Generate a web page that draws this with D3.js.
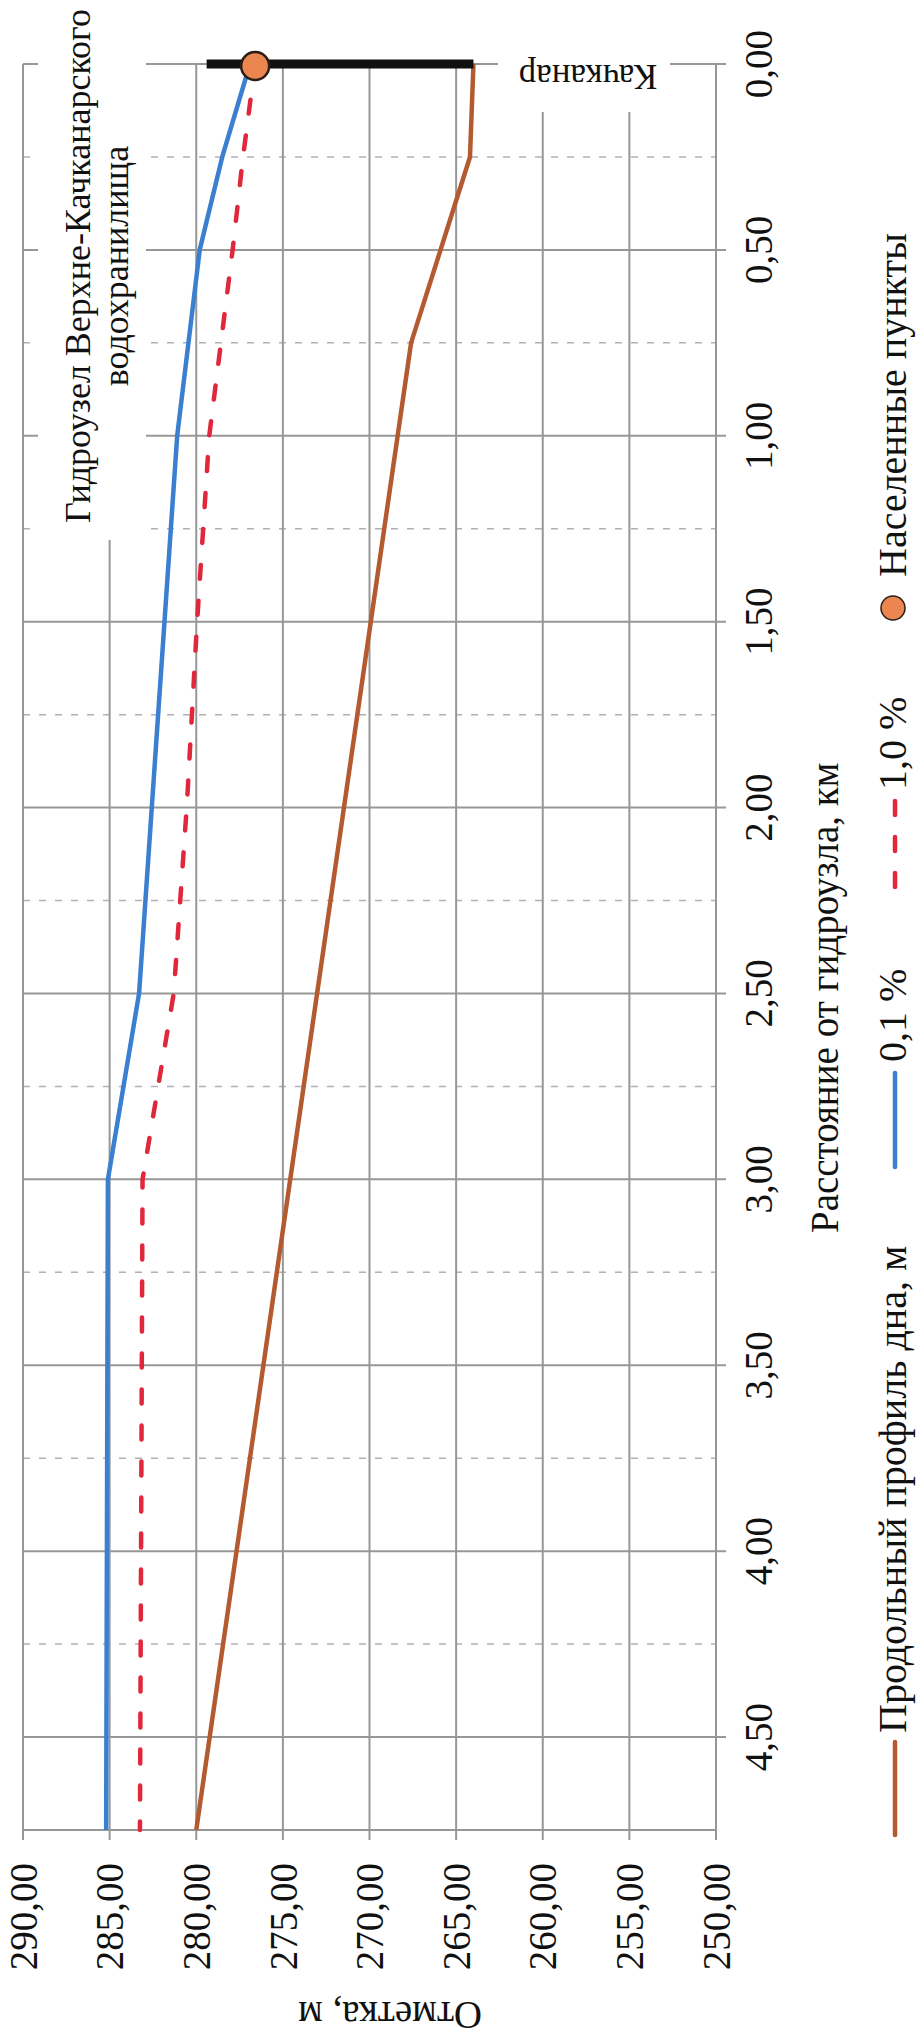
<!DOCTYPE html>
<html><head><meta charset="utf-8">
<script src="https://cdn.jsdelivr.net/npm/d3@7"></script>
<style>body{margin:0;background:#fff}svg{display:block}</style>
</head><body><svg id="c" width="921" height="2040"></svg>
<script>
// ---- data ----
const distTicks = [0, 0.5, 1.0, 1.5, 2.0, 2.5, 3.0, 3.5, 4.0, 4.5];
const distTickLabels = ["0,00","0,50","1,00","1,50","2,00","2,50","3,00","3,50","4,00","4,50"];
const distMinor = [0.25, 0.75, 1.25, 1.75, 2.25, 2.75, 3.25, 3.75, 4.25];
const elevTicks = [290, 285, 280, 275, 270, 265, 260, 255, 250];
const elevTickLabels = ["290,00","285,00","280,00","275,00","270,00","265,00","260,00","255,00","250,00"];

const bedDist = [0, 0.25, 0.75, 4.75];
const bedElev = [264.0, 264.2, 267.6, 280.0];
const p01Dist = [0, 0.25, 0.5, 1.0, 2.5, 3.0, 4.75];
const p01Elev = [276.9, 278.5, 279.8, 281.1, 283.3, 285.1, 285.2];
const p1Dist = [0, 0.25, 0.5, 1.0, 1.5, 2.0, 2.5, 3.0, 4.75];
const p1Elev = [276.6, 277.3, 277.9, 279.25, 279.95, 280.55, 281.3, 283.1, 283.25];

const townDist = [0];
const townElev = [276.6];
const townName = ["Качканар"];
const townBarLow = [264.0];
const townBarHigh = [279.4];

const legendLabels = ["Продольный профиль дна, м", "0,1 %", "1,0 %", "Населенные пункты"];
const xAxisTitle = "Расстояние от гидроузла, км";
const yAxisTitle = "Отметка, м";
const damLabel = ["Гидроузел Верхне-Качканарского", "водохранилища"];

// ---- drawing ----
const FONT = '"Liberation Serif", "Times New Roman", serif';
const svg = d3.select("#c");
const y = d3.scaleLinear().domain([0, 4.75]).range([64, 1830]);   // distance (vertical)
const x = d3.scaleLinear().domain([250, 290]).range([716, 23]);   // elevation (horizontal)
const GRID = "#979797";
const txt = (sel, size) => sel.style("font-family", FONT).style("font-size", size + "px").style("fill", "#111");

svg.append("g").selectAll("line").data(distMinor).join("line")
  .attr("x1", x(290)).attr("x2", x(250)).attr("y1", d => y(d)).attr("y2", d => y(d))
  .attr("stroke", "#b0b0b8").attr("stroke-width", 1.5).attr("stroke-dasharray", "7,9");
svg.append("g").selectAll("line").data(elevTicks).join("line")
  .attr("x1", d => x(d)).attr("x2", d => x(d)).attr("y1", y(0)).attr("y2", y(4.75) + 10)
  .attr("stroke", GRID).attr("stroke-width", 2);
svg.append("g").selectAll("line").data(distTicks).join("line")
  .attr("x1", x(290)).attr("x2", x(250) + 10).attr("y1", d => y(d)).attr("y2", d => y(d))
  .attr("stroke", GRID).attr("stroke-width", 2);
svg.append("line").attr("x1", x(290)).attr("x2", x(250)).attr("y1", y(4.75)).attr("y2", y(4.75))
  .attr("stroke", GRID).attr("stroke-width", 2);

svg.append("rect").attr("x", 38).attr("y", 0).attr("width", 108).attr("height", 540).attr("fill", "#fff");
svg.append("rect").attr("x", 498).attr("y", 40).attr("width", 172).attr("height", 72).attr("fill", "#fff");

const line = (xs, ys) => d3.line().x((d, i) => x(ys[i])).y((d, i) => y(xs[i]))(xs);
svg.append("path").attr("d", line(bedDist, bedElev)).attr("fill", "none")
  .attr("stroke", "#b45a30").attr("stroke-width", 4.5).attr("stroke-linejoin", "round");
svg.append("path").attr("d", line(p01Dist, p01Elev)).attr("fill", "none")
  .attr("stroke", "#3a7fd0").attr("stroke-width", 4.5).attr("stroke-linejoin", "round");
svg.append("path").attr("d", line(p1Dist, p1Elev)).attr("fill", "none")
  .attr("stroke", "#e0283c").attr("stroke-width", 4.5).attr("stroke-dasharray", "14,22")
  .attr("stroke-linecap", "round");

svg.append("g").selectAll("line").data(townDist).join("line")
  .attr("x1", (d, i) => x(townBarLow[i])).attr("x2", (d, i) => x(townBarHigh[i]))
  .attr("y1", d => y(d)).attr("y2", d => y(d))
  .attr("stroke", "#111").attr("stroke-width", 9);
svg.append("g").selectAll("circle").data(townDist).join("circle")
  .attr("cx", (d, i) => x(townElev[i])).attr("cy", d => y(d) + 2).attr("r", 14)
  .attr("fill", "#ec8650").attr("stroke", "#2a1d15").attr("stroke-width", 2.5);
txt(svg.append("g").selectAll("text").data(townDist).join("text")
  .attr("transform", d => `translate(588,${y(d) + 1}) rotate(180)`)
  .attr("text-anchor", "middle"), 35)
  .text((d, i) => townName[i]);

txt(svg.append("g").selectAll("text").data(damLabel).join("text")
  .attr("transform", (d, i) => `translate(${90 + i * 38},266) rotate(-90)`)
  .attr("text-anchor", "middle"), 36)
  .text(d => d);

txt(svg.append("g").selectAll("text").data(elevTicks).join("text")
  .attr("transform", d => `translate(${x(d)},1863) rotate(-90)`)
  .attr("text-anchor", "end").attr("dy", "0.35em"), 39)
  .text((d, i) => elevTickLabels[i]);
txt(svg.append("g").selectAll("text").data(distTicks).join("text")
  .attr("transform", d => `translate(772,${y(d)}) rotate(-90)`)
  .attr("text-anchor", "middle"), 39)
  .text((d, i) => distTickLabels[i]);

txt(svg.append("text").attr("transform", "translate(838,1233) rotate(-90)")
  .attr("text-anchor", "start"), 39)
  .text(xAxisTitle);
txt(svg.append("text").attr("transform", "translate(390,2002) rotate(180)")
  .attr("text-anchor", "middle"), 39)
  .text(yAxisTitle);

const LX = 895;
svg.append("line").attr("x1", LX).attr("x2", LX).attr("y1", 1742).attr("y2", 1835)
  .attr("stroke", "#b45a30").attr("stroke-width", 4.5).attr("stroke-linecap", "round");
svg.append("line").attr("x1", LX).attr("x2", LX).attr("y1", 1073).attr("y2", 1167)
  .attr("stroke", "#3a7fd0").attr("stroke-width", 4.5).attr("stroke-linecap", "round");
svg.append("line").attr("x1", LX).attr("x2", LX).attr("y1", 801).attr("y2", 894)
  .attr("stroke", "#e0283c").attr("stroke-width", 4.5).attr("stroke-dasharray", "14,22")
  .attr("stroke-linecap", "round");
svg.append("circle").attr("cx", 893).attr("cy", 608).attr("r", 12)
  .attr("fill", "#ec8650").attr("stroke", "#2a1d15").attr("stroke-width", 1.5);
const legendStarts = [1733, 1062, 790, 577];
txt(svg.append("g").selectAll("text").data(legendLabels).join("text")
  .attr("transform", (d, i) => `translate(906,${legendStarts[i]}) rotate(-90)`)
  .attr("text-anchor", "start"), 40)
  .text(d => d);
</script></body></html>
